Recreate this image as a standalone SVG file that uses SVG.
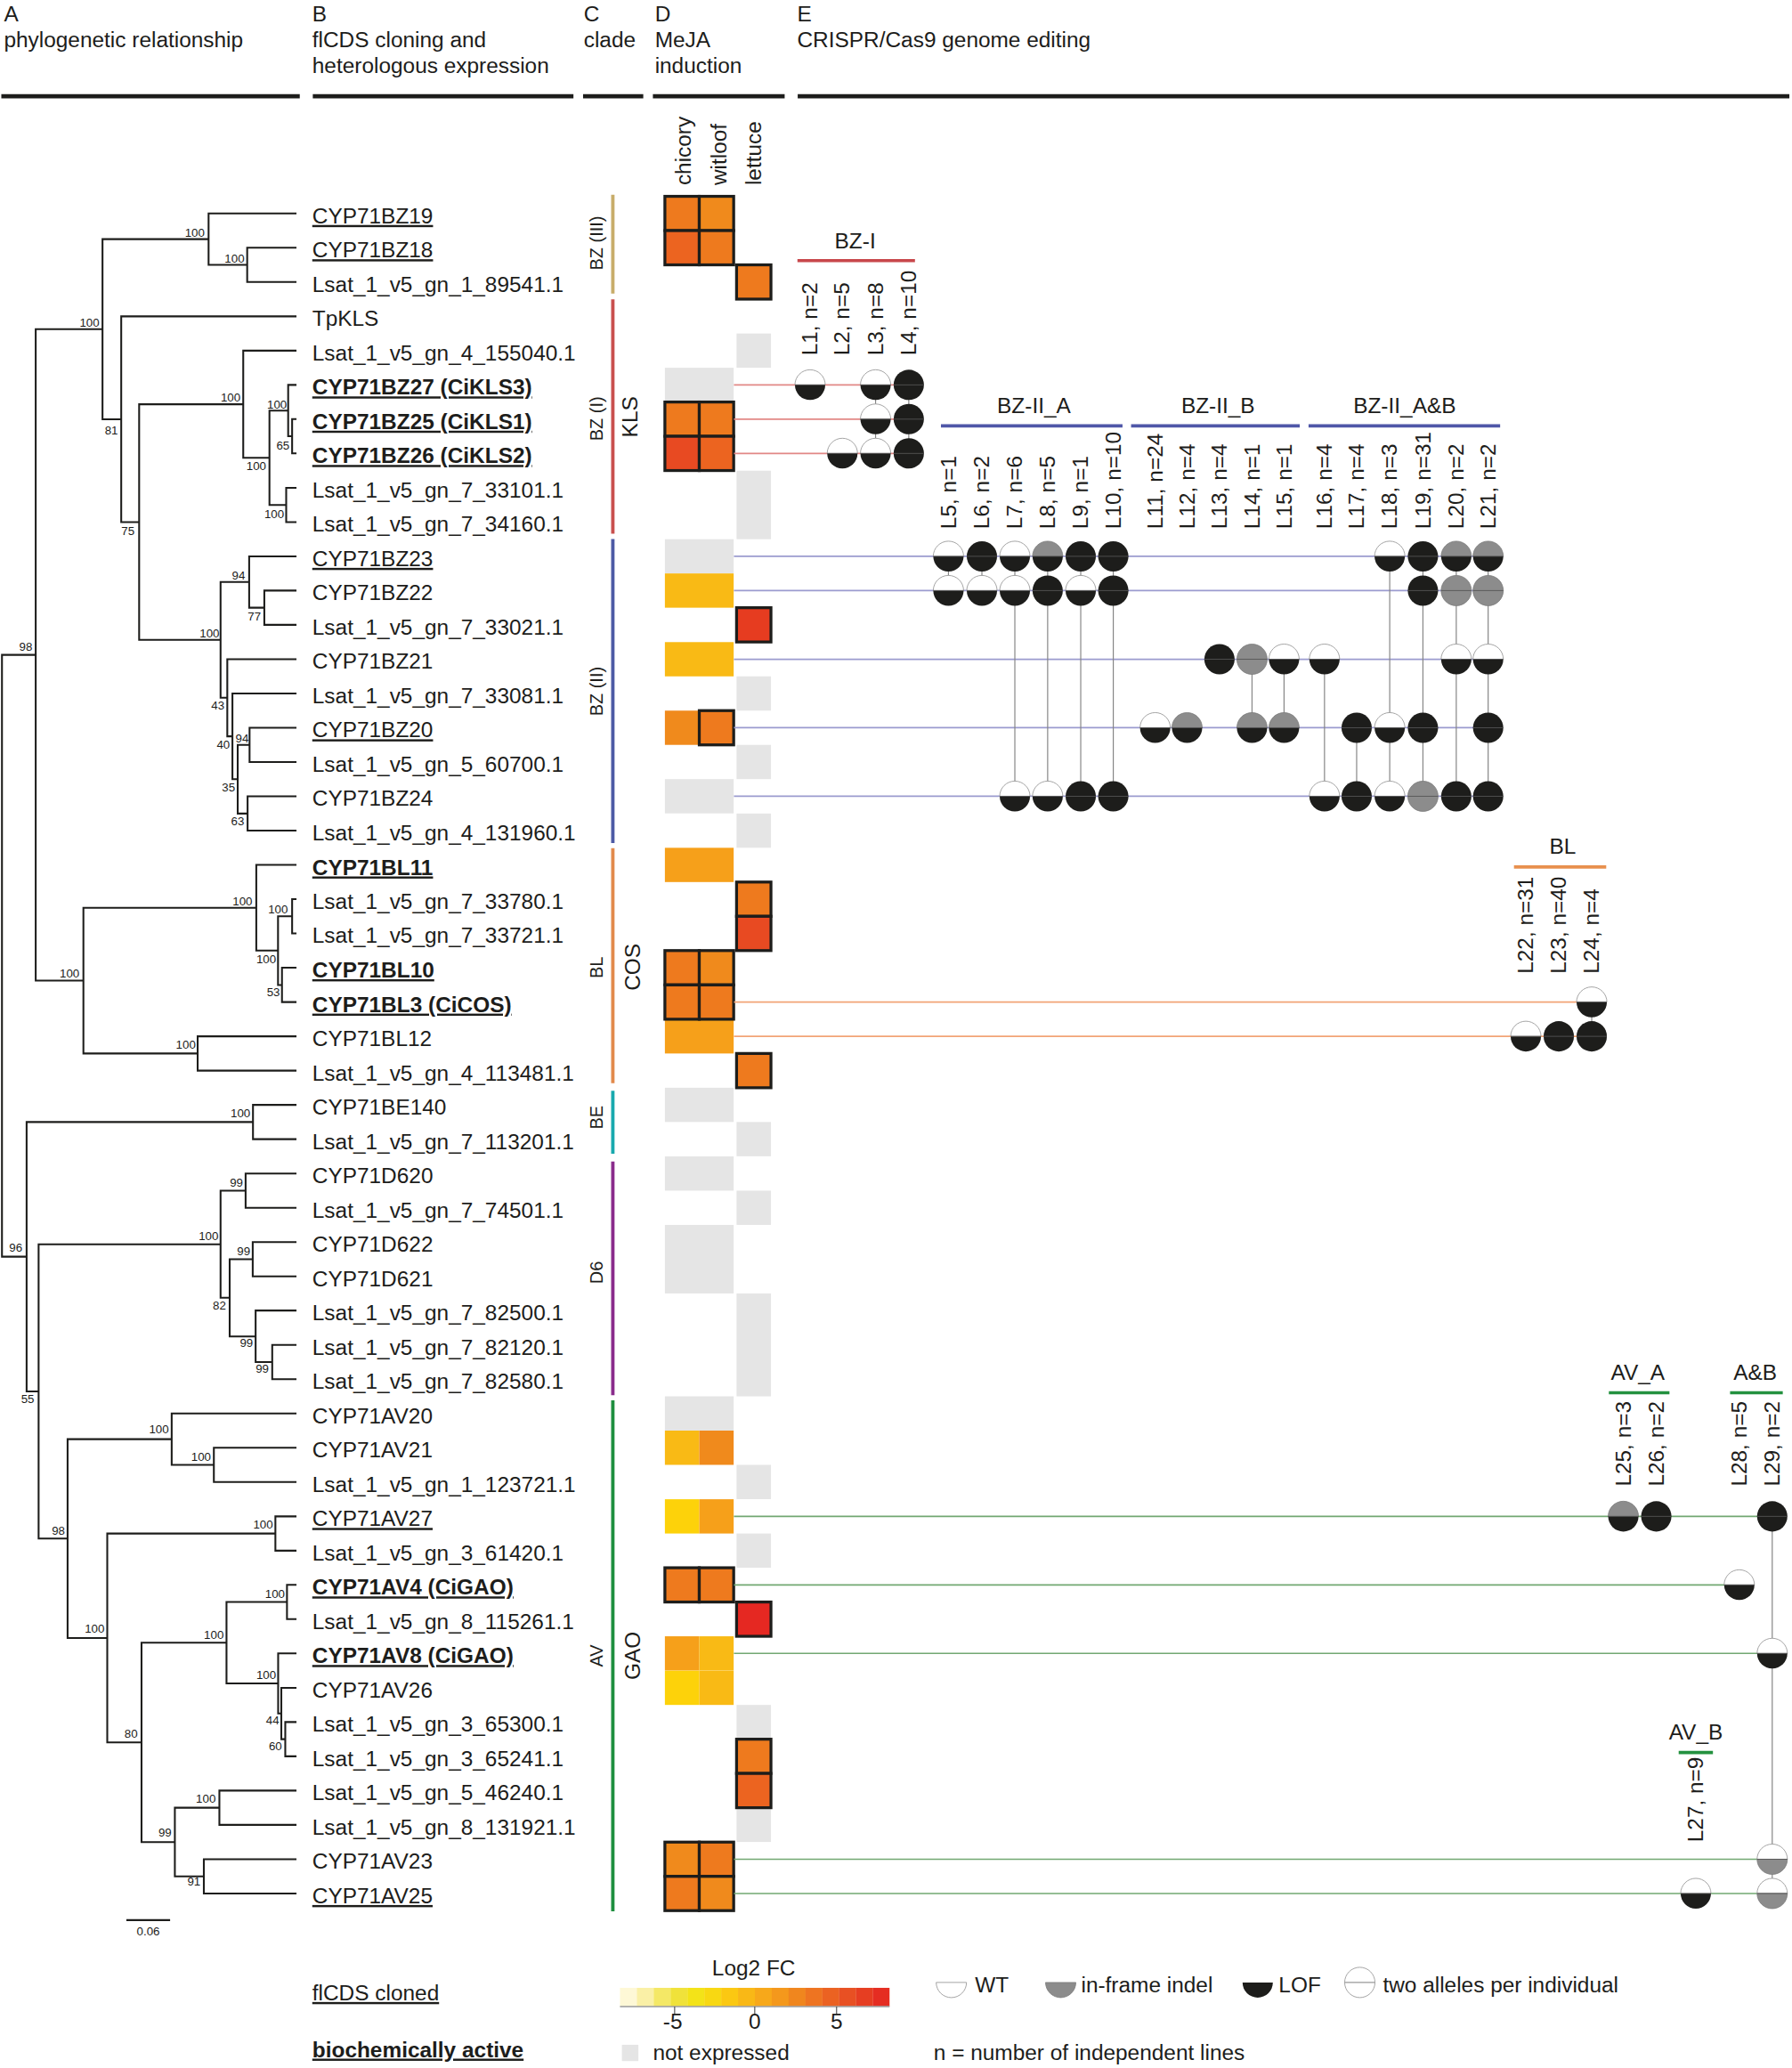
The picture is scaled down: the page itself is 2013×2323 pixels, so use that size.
<svg xmlns="http://www.w3.org/2000/svg" xmlns:xlink="http://www.w3.org/1999/xlink" width="2013" height="2323" viewBox="0 0 2013 2323">
<style>
.t{font-family:"Liberation Sans",Arial,sans-serif;font-size:16.5px;fill:#1d1d1b}
.b{font-weight:bold}
.u{text-decoration:underline}
.bs{font-family:"Liberation Sans",Arial,sans-serif;font-size:9px;fill:#1d1d1b;text-anchor:middle}
.cl{font-family:"Liberation Sans",Arial,sans-serif;font-size:13.5px;fill:#1d1d1b;text-anchor:middle}
.cb{font-family:"Liberation Sans",Arial,sans-serif;font-size:16.5px;fill:#1d1d1b;text-anchor:middle}
.tr{stroke:#1d1d1b;stroke-width:1.4;fill:none}
.hd{stroke:#1d1d1b;stroke-width:3.2}
.cbar{stroke-width:2.6;fill:none}
.c1{fill:#F9BA15}.c2{fill:#F6A01A}.c3{fill:#F08A1C}.c4{fill:#EE7A1E}.c5{fill:#EC6420}.c6{fill:#E84A22}.c7{fill:#E63C20}.c8{fill:#E52822}.cy{fill:#FDD20A}.ne{fill:#E5E5E5}
.bd{stroke:#1d1d1b;stroke-width:2.2}
.w{fill:#fff;stroke:#9a9a9a;stroke-width:.6}
.g{fill:#8c8c8c;stroke:#777;stroke-width:.5}
.k{fill:#1d1d1b}
.dv{stroke:#555;stroke-width:.6}
.vc{stroke:#858585;stroke-width:.8}
.hr{stroke:#E28886;stroke-width:1.1}
.hb{stroke:#9B9BCF;stroke-width:1.2}
.ho{stroke:#F2A476;stroke-width:1.1}
.hg{stroke:#72A872;stroke-width:1.1}
.gr{stroke:#C8474B;stroke-width:2.5}
.gb{stroke:#4F57A8;stroke-width:2.5}
.go{stroke:#E8904E;stroke-width:2.5}
.gg{stroke:#23913F;stroke-width:2.5}
</style>
<defs>
<g id="wk"><path d="M-11.5 0A11.5 11.5 0 0 1 11.5 0Z" class="w"/><path d="M-11.5 0A11.5 11.5 0 0 0 11.5 0Z" class="k"/><line x1="-11.5" x2="11.5" class="dv"/></g>
<g id="kk"><circle r="11.5" class="k"/><line x1="-11.5" x2="11.5" class="dv"/></g>
<g id="gk"><path d="M-11.5 0A11.5 11.5 0 0 1 11.5 0Z" class="g"/><path d="M-11.5 0A11.5 11.5 0 0 0 11.5 0Z" class="k"/><line x1="-11.5" x2="11.5" class="dv"/></g>
<g id="gg"><circle r="11.5" class="g"/><line x1="-11.5" x2="11.5" class="dv"/></g>
<g id="wg"><path d="M-11.5 0A11.5 11.5 0 0 1 11.5 0Z" class="w"/><path d="M-11.5 0A11.5 11.5 0 0 0 11.5 0Z" class="g"/><line x1="-11.5" x2="11.5" class="dv"/></g>
</defs>
<rect width="2013" height="2323" fill="#fff"/>
<g transform="scale(1.48015)">
<g id="header">
<text class="t" x="3" y="16">A</text>
<text class="t" x="3" y="35.5">phylogenetic relationship</text>
<text class="t" x="237" y="16">B</text>
<text class="t" x="237" y="35.5">flCDS cloning and</text>
<text class="t" x="237" y="55.5">heterologous expression</text>
<text class="t" x="443" y="16">C</text>
<text class="t" x="443" y="35.5">clade</text>
<text class="t" x="497" y="16">D</text>
<text class="t" x="497" y="35.5">MeJA</text>
<text class="t" x="497" y="55.5">induction</text>
<text class="t" x="605" y="16">E</text>
<text class="t" x="605" y="35.5">CRISPR/Cas9 genome editing</text>
<line class="hd" x1="1" y1="73" x2="227.5" y2="73"/>
<line class="hd" x1="237.4" y1="73" x2="435.2" y2="73"/>
<line class="hd" x1="442.5" y1="73" x2="488.2" y2="73"/>
<line class="hd" x1="495.5" y1="73" x2="595.5" y2="73"/>
<line class="hd" x1="605.4" y1="73" x2="1358" y2="73"/>
</g>
<g id="tree" class="tr">
<path d="M225 188H187.6V214H225"/>
<path d="M225 162H158.3V201H187.6"/>
<path d="M225 318.1H221.7V344.1H225"/>
<path d="M225 292.1H218.7V331.1H221.7"/>
<path d="M225 370.2H217.2V396.2H225"/>
<path d="M218.7 311.6H204.5V383.2H217.2"/>
<path d="M225 266.1H184.6V347.4H204.5"/>
<path d="M225 448.2H200.6V474.2H225"/>
<path d="M225 422.2H189.1V461.2H200.6"/>
<path d="M225 552.3H189.4V578.3H225"/>
<path d="M225 604.3H187.9V630.4H225"/>
<path d="M189.4 565.3H180.4V617.4H187.9"/>
<path d="M225 526.3H176.4V591.3H180.4"/>
<path d="M225 500.3H172.5V558.8H176.4"/>
<path d="M189.1 441.7H167.4V529.5H172.5"/>
<path d="M184.6 306.8H105.6V485.6H167.4"/>
<path d="M225 240.1H92V396.2H105.6"/>
<path d="M158.3 181.5H77.8V318.2H92"/>
<path d="M225 682.4H221.7V708.4H225"/>
<path d="M225 734.4H214V760.5H225"/>
<path d="M221.7 695.4H211V747.5H214"/>
<path d="M225 656.4H194.5V721.4H211"/>
<path d="M225 786.5H150V812.5H225"/>
<path d="M194.5 688.9H63.3V799.5H150"/>
<path d="M77.8 249.8H27.1V744.2H63.3"/>
<path d="M225 838.5H192V864.5H225"/>
<path d="M225 890.6H186.4V916.6H225"/>
<path d="M225 942.6H191.8V968.6H225"/>
<path d="M225 1020.7H206.6V1046.7H225"/>
<path d="M225 994.6H194V1033.7H206.6"/>
<path d="M191.8 955.6H174.3V1014.2H194"/>
<path d="M186.4 903.6H167.4V984.9H174.3"/>
<path d="M225 1098.7H162.3V1124.7H225"/>
<path d="M225 1072.7H130.3V1111.7H162.3"/>
<path d="M225 1150.8H209V1176.8H225"/>
<path d="M225 1202.8H217.8V1228.8H225"/>
<path d="M225 1306.9H216.5V1332.9H225"/>
<path d="M225 1280.9H213.5V1319.9H216.5"/>
<path d="M225 1254.8H211.1V1300.4H213.5"/>
<path d="M217.8 1215.8H171.9V1277.6H211.1"/>
<path d="M225 1358.9H166.5V1384.9H225"/>
<path d="M225 1411H154.7V1437H225"/>
<path d="M166.5 1371.9H132.7V1424H154.7"/>
<path d="M171.9 1246.7H107.4V1398H132.7"/>
<path d="M209 1163.8H81.4V1322.3H107.4"/>
<path d="M130.3 1092.2H51.3V1243.1H81.4"/>
<path d="M167.4 944.3H29.3V1167.6H51.3"/>
<path d="M192 851.5H20.2V1056H29.3"/>
<path d="M27.1 497H1.5V953.7H20.2"/>
<path d="M95.9 1457.2H129.1"/>
</g>
<g id="bootstrap">
<text class="bs" x="147.8" y="179.5">100</text>
<text class="bs" x="178" y="199">100</text>
<text class="bs" x="67.9" y="248">100</text>
<text class="bs" x="84.5" y="329.5">81</text>
<text class="bs" x="97.1" y="406">75</text>
<text class="bs" x="175" y="305">100</text>
<text class="bs" x="194.5" y="357">100</text>
<text class="bs" x="210.2" y="310">100</text>
<text class="bs" x="214.7" y="341">65</text>
<text class="bs" x="208.1" y="393.5">100</text>
<text class="bs" x="159" y="484">100</text>
<text class="bs" x="181" y="440">94</text>
<text class="bs" x="193" y="471">77</text>
<text class="bs" x="165.3" y="538.5">43</text>
<text class="bs" x="169.5" y="568">40</text>
<text class="bs" x="173.4" y="600.7">35</text>
<text class="bs" x="183.7" y="563.5">94</text>
<text class="bs" x="180.4" y="626.6">63</text>
<text class="bs" x="19.6" y="494.2">98</text>
<text class="bs" x="52.8" y="742">100</text>
<text class="bs" x="184" y="686.8">100</text>
<text class="bs" x="202" y="730.7">100</text>
<text class="bs" x="211" y="693.5">100</text>
<text class="bs" x="207.5" y="756.2">53</text>
<text class="bs" x="141" y="796">100</text>
<text class="bs" x="182.5" y="848.2">100</text>
<text class="bs" x="12" y="950.2">96</text>
<text class="bs" x="21" y="1065">55</text>
<text class="bs" x="158.3" y="941">100</text>
<text class="bs" x="179.4" y="900.7">99</text>
<text class="bs" x="166.5" y="994">82</text>
<text class="bs" x="184.9" y="952.5">99</text>
<text class="bs" x="187" y="1022">99</text>
<text class="bs" x="199" y="1042">99</text>
<text class="bs" x="44.3" y="1164.8">98</text>
<text class="bs" x="120.6" y="1088">100</text>
<text class="bs" x="152.6" y="1108.5">100</text>
<text class="bs" x="71.8" y="1239">100</text>
<text class="bs" x="199.7" y="1160">100</text>
<text class="bs" x="99.5" y="1318.5">80</text>
<text class="bs" x="162.3" y="1243.7">100</text>
<text class="bs" x="208.7" y="1212.6">100</text>
<text class="bs" x="202" y="1274.2">100</text>
<text class="bs" x="206.9" y="1308.4">44</text>
<text class="bs" x="209" y="1328">60</text>
<text class="bs" x="125.2" y="1394">99</text>
<text class="bs" x="156.2" y="1368">100</text>
<text class="bs" x="147.2" y="1431">91</text>
<text class="bs" x="112.5" y="1468.5">0.06</text>
</g>
<g id="labels" class="t" transform="translate(0 1.6)">
<text class="u" x="237" y="167.8">CYP71BZ19</text>
<text class="u" x="237" y="193.8">CYP71BZ18</text>
<text x="237" y="219.8">Lsat_1_v5_gn_1_89541.1</text>
<text x="237" y="245.9">TpKLS</text>
<text x="237" y="271.9">Lsat_1_v5_gn_4_155040.1</text>
<text class="b u" x="237" y="297.9">CYP71BZ27 (CiKLS3)</text>
<text class="b u" x="237" y="323.9">CYP71BZ25 (CiKLS1)</text>
<text class="b u" x="237" y="349.9">CYP71BZ26 (CiKLS2)</text>
<text x="237" y="376">Lsat_1_v5_gn_7_33101.1</text>
<text x="237" y="402">Lsat_1_v5_gn_7_34160.1</text>
<text class="u" x="237" y="428">CYP71BZ23</text>
<text x="237" y="454">CYP71BZ22</text>
<text x="237" y="480">Lsat_1_v5_gn_7_33021.1</text>
<text x="237" y="506.1">CYP71BZ21</text>
<text x="237" y="532.1">Lsat_1_v5_gn_7_33081.1</text>
<text class="u" x="237" y="558.1">CYP71BZ20</text>
<text x="237" y="584.1">Lsat_1_v5_gn_5_60700.1</text>
<text x="237" y="610.1">CYP71BZ24</text>
<text x="237" y="636.2">Lsat_1_v5_gn_4_131960.1</text>
<text class="b u" x="237" y="662.2">CYP71BL11</text>
<text x="237" y="688.2">Lsat_1_v5_gn_7_33780.1</text>
<text x="237" y="714.2">Lsat_1_v5_gn_7_33721.1</text>
<text class="b u" x="237" y="740.2">CYP71BL10</text>
<text class="b u" x="237" y="766.3">CYP71BL3 (CiCOS)</text>
<text x="237" y="792.3">CYP71BL12</text>
<text x="237" y="818.3">Lsat_1_v5_gn_4_113481.1</text>
<text x="237" y="844.3">CYP71BE140</text>
<text x="237" y="870.3">Lsat_1_v5_gn_7_113201.1</text>
<text x="237" y="896.4">CYP71D620</text>
<text x="237" y="922.4">Lsat_1_v5_gn_7_74501.1</text>
<text x="237" y="948.4">CYP71D622</text>
<text x="237" y="974.4">CYP71D621</text>
<text x="237" y="1000.4">Lsat_1_v5_gn_7_82500.1</text>
<text x="237" y="1026.5">Lsat_1_v5_gn_7_82120.1</text>
<text x="237" y="1052.5">Lsat_1_v5_gn_7_82580.1</text>
<text x="237" y="1078.5">CYP71AV20</text>
<text x="237" y="1104.5">CYP71AV21</text>
<text x="237" y="1130.5">Lsat_1_v5_gn_1_123721.1</text>
<text class="u" x="237" y="1156.6">CYP71AV27</text>
<text x="237" y="1182.6">Lsat_1_v5_gn_3_61420.1</text>
<text class="b u" x="237" y="1208.6">CYP71AV4 (CiGAO)</text>
<text x="237" y="1234.6">Lsat_1_v5_gn_8_115261.1</text>
<text class="b u" x="237" y="1260.6">CYP71AV8 (CiGAO)</text>
<text x="237" y="1286.7">CYP71AV26</text>
<text x="237" y="1312.7">Lsat_1_v5_gn_3_65300.1</text>
<text x="237" y="1338.7">Lsat_1_v5_gn_3_65241.1</text>
<text x="237" y="1364.7">Lsat_1_v5_gn_5_46240.1</text>
<text x="237" y="1390.7">Lsat_1_v5_gn_8_131921.1</text>
<text x="237" y="1416.8">CYP71AV23</text>
<text class="u" x="237" y="1442.8">CYP71AV25</text>
</g>
<g id="clades">
<line class="cbar" stroke="#C8AD6A" x1="465.1" y1="147.8" x2="465.1" y2="222.8"/>
<line class="cbar" stroke="#C9504E" x1="465.1" y1="227.2" x2="465.1" y2="405.1"/>
<line class="cbar" stroke="#4D5AA5" x1="465.1" y1="409" x2="465.1" y2="639.8"/>
<line class="cbar" stroke="#E28A4C" x1="465.1" y1="643.7" x2="465.1" y2="822.1"/>
<line class="cbar" stroke="#18A9AE" x1="465.1" y1="827.8" x2="465.1" y2="875.6"/>
<line class="cbar" stroke="#8A2C8C" x1="465.1" y1="881.5" x2="465.1" y2="1058.8"/>
<line class="cbar" stroke="#1E8F3F" x1="465.1" y1="1062.7" x2="465.1" y2="1450.6"/>
<text class="cl" transform="translate(457.5 184.5) rotate(-90)">BZ (III)</text>
<text class="cl" transform="translate(457.5 317.7) rotate(-90)">BZ (I)</text>
<text class="cb" transform="translate(483.9 316.4) rotate(-90)">KLS</text>
<text class="cl" transform="translate(457.5 524.7) rotate(-90)">BZ (II)</text>
<text class="cl" transform="translate(457.5 734.2) rotate(-90)">BL</text>
<text class="cb" transform="translate(485.7 734) rotate(-90)">COS</text>
<text class="cl" transform="translate(457.5 848) rotate(-90)">BE</text>
<text class="cl" transform="translate(457.5 965.7) rotate(-90)">D6</text>
<text class="cl" transform="translate(457.5 1256.6) rotate(-90)">AV</text>
<text class="cb" transform="translate(485.7 1256.6) rotate(-90)">GAO</text>
</g>
<g id="heatmap">
<text class="t" transform="translate(524.5 140.6) rotate(-90)">chicory</text>
<text class="t" transform="translate(551.5 140.6) rotate(-90)">witloof</text>
<text class="t" transform="translate(577.8 140.6) rotate(-90)">lettuce</text>
<rect class="ne" x="559" y="253.1" width="26.1" height="26"/>
<rect class="ne" x="504.6" y="279.1" width="52.2" height="26"/>
<rect class="ne" x="559" y="357.2" width="26.1" height="52"/>
<rect class="ne" x="504.6" y="409.2" width="52.2" height="26"/>
<rect class="c1" x="504.6" y="435.2" width="52.2" height="26"/>
<rect class="c1" x="504.6" y="487.3" width="52.2" height="26"/>
<rect class="ne" x="559" y="513.3" width="26.1" height="26"/>
<rect class="c3" x="504.6" y="539.3" width="26.1" height="26"/>
<rect class="ne" x="559" y="565.3" width="26.1" height="26"/>
<rect class="ne" x="504.6" y="591.3" width="52.2" height="26"/>
<rect class="ne" x="559" y="617.4" width="26.1" height="26"/>
<rect class="c2" x="504.6" y="643.4" width="52.2" height="26"/>
<rect class="c2" x="504.6" y="773.5" width="52.2" height="26"/>
<rect class="ne" x="504.6" y="825.5" width="52.2" height="26"/>
<rect class="ne" x="559" y="851.5" width="26.1" height="26"/>
<rect class="ne" x="504.6" y="877.6" width="52.2" height="26"/>
<rect class="ne" x="559" y="903.6" width="26.1" height="26"/>
<rect class="ne" x="504.6" y="929.6" width="52.2" height="52"/>
<rect class="ne" x="559" y="981.6" width="26.1" height="78.1"/>
<rect class="ne" x="504.6" y="1059.7" width="52.2" height="26"/>
<rect class="c1" x="504.6" y="1085.7" width="26.1" height="26"/>
<rect class="c3" x="530.7" y="1085.7" width="26.1" height="26"/>
<rect class="ne" x="559" y="1111.7" width="26.1" height="26"/>
<rect class="cy" x="504.6" y="1137.8" width="26.1" height="26"/>
<rect class="c2" x="530.7" y="1137.8" width="26.1" height="26"/>
<rect class="ne" x="559" y="1163.8" width="26.1" height="26"/>
<rect class="c2" x="504.6" y="1241.8" width="26.1" height="26"/>
<rect class="c1" x="530.7" y="1241.8" width="26.1" height="26"/>
<rect class="cy" x="504.6" y="1267.9" width="26.1" height="26"/>
<rect class="c1" x="530.7" y="1267.9" width="26.1" height="26"/>
<rect class="ne" x="559" y="1293.9" width="26.1" height="26"/>
<rect class="ne" x="559" y="1371.9" width="26.1" height="26"/>
<g class="bd">
<rect class="c4" x="504.6" y="149" width="26.1" height="26"/>
<rect class="c3" x="530.7" y="149" width="26.1" height="26"/>
<rect class="c5" x="504.6" y="175" width="26.1" height="26"/>
<rect class="c4" x="530.7" y="175" width="26.1" height="26"/>
<rect class="c4" x="559" y="201" width="26.1" height="26"/>
<rect class="c4" x="504.6" y="305.1" width="26.1" height="26"/>
<rect class="c4" x="530.7" y="305.1" width="26.1" height="26"/>
<rect class="c6" x="504.6" y="331.1" width="26.1" height="26"/>
<rect class="c5" x="530.7" y="331.1" width="26.1" height="26"/>
<rect class="c7" x="559" y="461.2" width="26.1" height="26"/>
<rect class="c4" x="530.7" y="539.3" width="26.1" height="26"/>
<rect class="c4" x="559" y="669.4" width="26.1" height="26"/>
<rect class="c6" x="559" y="695.4" width="26.1" height="26"/>
<rect class="c4" x="504.6" y="721.4" width="26.1" height="26"/>
<rect class="c3" x="530.7" y="721.4" width="26.1" height="26"/>
<rect class="c4" x="504.6" y="747.5" width="26.1" height="26"/>
<rect class="c4" x="530.7" y="747.5" width="26.1" height="26"/>
<rect class="c4" x="559" y="799.5" width="26.1" height="26"/>
<rect class="c4" x="504.6" y="1189.8" width="26.1" height="26"/>
<rect class="c4" x="530.7" y="1189.8" width="26.1" height="26"/>
<rect class="c8" x="559" y="1215.8" width="26.1" height="26"/>
<rect class="c4" x="559" y="1319.9" width="26.1" height="26"/>
<rect class="c5" x="559" y="1345.9" width="26.1" height="26"/>
<rect class="c3" x="504.6" y="1398" width="26.1" height="26"/>
<rect class="c4" x="530.7" y="1398" width="26.1" height="26"/>
<rect class="c4" x="504.6" y="1424" width="26.1" height="26"/>
<rect class="c3" x="530.7" y="1424" width="26.1" height="26"/>
</g>
</g>
<g id="connectors">
<line class="hr" x1="557" y1="292.1" x2="689.7" y2="292.1"/>
<line class="hr" x1="557" y1="318.1" x2="689.7" y2="318.1"/>
<line class="hr" x1="557" y1="344.1" x2="689.7" y2="344.1"/>
<line class="hb" x1="557" y1="422.2" x2="1129.4" y2="422.2"/>
<line class="hb" x1="557" y1="448.2" x2="1129.4" y2="448.2"/>
<line class="hb" x1="557" y1="500.3" x2="1129.4" y2="500.3"/>
<line class="hb" x1="557" y1="552.3" x2="1129.4" y2="552.3"/>
<line class="hb" x1="557" y1="604.3" x2="1129.4" y2="604.3"/>
<line class="ho" x1="557" y1="760.5" x2="1208" y2="760.5"/>
<line class="ho" x1="557" y1="786.5" x2="1208" y2="786.5"/>
<line class="hg" x1="557" y1="1150.8" x2="1345" y2="1150.8"/>
<line class="hg" x1="557" y1="1202.8" x2="1320" y2="1202.8"/>
<line class="hg" x1="557" y1="1254.8" x2="1345" y2="1254.8"/>
<line class="hg" x1="557" y1="1411" x2="1345" y2="1411"/>
<line class="hg" x1="557" y1="1437" x2="1345" y2="1437"/>
<g class="vc">
<line x1="664.5" y1="292.1" x2="664.5" y2="344.1"/>
<line x1="689.7" y1="292.1" x2="689.7" y2="344.1"/>
<line x1="719.8" y1="422.2" x2="719.8" y2="448.2"/>
<line x1="745.2" y1="422.2" x2="745.2" y2="448.2"/>
<line x1="770.2" y1="422.2" x2="770.2" y2="604.3"/>
<line x1="795.1" y1="422.2" x2="795.1" y2="604.3"/>
<line x1="820.2" y1="422.2" x2="820.2" y2="604.3"/>
<line x1="844.9" y1="422.2" x2="844.9" y2="604.3"/>
<line x1="950.2" y1="500.3" x2="950.2" y2="552.3"/>
<line x1="974.5" y1="500.3" x2="974.5" y2="552.3"/>
<line x1="1005.2" y1="500.3" x2="1005.2" y2="604.3"/>
<line x1="1029.6" y1="552.3" x2="1029.6" y2="604.3"/>
<line x1="1054.7" y1="422.2" x2="1054.7" y2="604.3"/>
<line x1="1079.9" y1="422.2" x2="1079.9" y2="604.3"/>
<line x1="1105.2" y1="422.2" x2="1105.2" y2="604.3"/>
<line x1="1129.4" y1="422.2" x2="1129.4" y2="604.3"/>
<line x1="1208" y1="760.5" x2="1208" y2="786.5"/>
<line x1="1345" y1="1150.8" x2="1345" y2="1437"/>
</g>
</g>
<g id="group-BZ-I">
<text class="cb" x="649" y="188.5">BZ-I</text>
<line class="gr" x1="605.2" y1="197.8" x2="694.4" y2="197.8"/>
<text class="t" transform="translate(620.3 269.8) rotate(-90)">L1, n=2</text>
<text class="t" transform="translate(644.8 269.8) rotate(-90)">L2, n=5</text>
<text class="t" transform="translate(670 269.8) rotate(-90)">L3, n=8</text>
<text class="t" transform="translate(695.2 269.8) rotate(-90)">L4, n=10</text>
<use xlink:href="#wk" x="614.8" y="292.1"/>
<use xlink:href="#wk" x="664.5" y="292.1"/>
<use xlink:href="#kk" x="689.7" y="292.1"/>
<use xlink:href="#wk" x="664.5" y="318.1"/>
<use xlink:href="#kk" x="689.7" y="318.1"/>
<use xlink:href="#wk" x="639.3" y="344.1"/>
<use xlink:href="#wk" x="664.5" y="344.1"/>
<use xlink:href="#kk" x="689.7" y="344.1"/>
</g>
<g id="group-BZ-II">
<text class="cb" x="784.7" y="313.5">BZ-II_A</text>
<line class="gb" x1="714.1" y1="323.2" x2="851.9" y2="323.2"/>
<text class="cb" x="924.4" y="313.5">BZ-II_B</text>
<line class="gb" x1="858.4" y1="323.2" x2="986.4" y2="323.2"/>
<text class="cb" x="1066" y="313.5">BZ-II_A&amp;B</text>
<line class="gb" x1="993.1" y1="323.2" x2="1138.5" y2="323.2"/>
<text class="t" transform="translate(725.3 401.4) rotate(-90)">L5, n=1</text>
<text class="t" transform="translate(750.7 401.4) rotate(-90)">L6, n=2</text>
<text class="t" transform="translate(775.7 401.4) rotate(-90)">L7, n=6</text>
<text class="t" transform="translate(800.6 401.4) rotate(-90)">L8, n=5</text>
<text class="t" transform="translate(825.7 401.4) rotate(-90)">L9, n=1</text>
<text class="t" transform="translate(850.4 401.4) rotate(-90)">L10, n=10</text>
<text class="t" transform="translate(882.2 401.4) rotate(-90)">L11, n=24</text>
<text class="t" transform="translate(906.4 401.4) rotate(-90)">L12, n=4</text>
<text class="t" transform="translate(931 401.4) rotate(-90)">L13, n=4</text>
<text class="t" transform="translate(955.7 401.4) rotate(-90)">L14, n=1</text>
<text class="t" transform="translate(980 401.4) rotate(-90)">L15, n=1</text>
<text class="t" transform="translate(1010.7 401.4) rotate(-90)">L16, n=4</text>
<text class="t" transform="translate(1035.1 401.4) rotate(-90)">L17, n=4</text>
<text class="t" transform="translate(1060.2 401.4) rotate(-90)">L18, n=3</text>
<text class="t" transform="translate(1085.4 401.4) rotate(-90)">L19, n=31</text>
<text class="t" transform="translate(1110.7 401.4) rotate(-90)">L20, n=2</text>
<text class="t" transform="translate(1134.9 401.4) rotate(-90)">L21, n=2</text>
<use xlink:href="#wk" x="719.8" y="422.2"/>
<use xlink:href="#kk" x="745.2" y="422.2"/>
<use xlink:href="#wk" x="770.2" y="422.2"/>
<use xlink:href="#gk" x="795.1" y="422.2"/>
<use xlink:href="#kk" x="820.2" y="422.2"/>
<use xlink:href="#kk" x="844.9" y="422.2"/>
<use xlink:href="#wk" x="1054.7" y="422.2"/>
<use xlink:href="#kk" x="1079.9" y="422.2"/>
<use xlink:href="#gk" x="1105.2" y="422.2"/>
<use xlink:href="#gk" x="1129.4" y="422.2"/>
<use xlink:href="#wk" x="719.8" y="448.2"/>
<use xlink:href="#wk" x="745.2" y="448.2"/>
<use xlink:href="#wk" x="770.2" y="448.2"/>
<use xlink:href="#kk" x="795.1" y="448.2"/>
<use xlink:href="#wk" x="820.2" y="448.2"/>
<use xlink:href="#kk" x="844.9" y="448.2"/>
<use xlink:href="#kk" x="1079.9" y="448.2"/>
<use xlink:href="#gg" x="1105.2" y="448.2"/>
<use xlink:href="#gg" x="1129.4" y="448.2"/>
<use xlink:href="#kk" x="925.5" y="500.3"/>
<use xlink:href="#gg" x="950.2" y="500.3"/>
<use xlink:href="#wk" x="974.5" y="500.3"/>
<use xlink:href="#wk" x="1005.2" y="500.3"/>
<use xlink:href="#wk" x="1105.2" y="500.3"/>
<use xlink:href="#wk" x="1129.4" y="500.3"/>
<use xlink:href="#wk" x="876.7" y="552.3"/>
<use xlink:href="#gk" x="900.9" y="552.3"/>
<use xlink:href="#gk" x="950.2" y="552.3"/>
<use xlink:href="#gk" x="974.5" y="552.3"/>
<use xlink:href="#kk" x="1029.6" y="552.3"/>
<use xlink:href="#wk" x="1054.7" y="552.3"/>
<use xlink:href="#kk" x="1079.9" y="552.3"/>
<use xlink:href="#kk" x="1129.4" y="552.3"/>
<use xlink:href="#wk" x="770.2" y="604.3"/>
<use xlink:href="#wk" x="795.1" y="604.3"/>
<use xlink:href="#kk" x="820.2" y="604.3"/>
<use xlink:href="#kk" x="844.9" y="604.3"/>
<use xlink:href="#wk" x="1005.2" y="604.3"/>
<use xlink:href="#kk" x="1029.6" y="604.3"/>
<use xlink:href="#wk" x="1054.7" y="604.3"/>
<use xlink:href="#gg" x="1079.9" y="604.3"/>
<use xlink:href="#kk" x="1105.2" y="604.3"/>
<use xlink:href="#kk" x="1129.4" y="604.3"/>
</g>
<g id="group-BL">
<text class="cb" x="1186" y="648">BL</text>
<line class="go" x1="1149" y1="658" x2="1219" y2="658"/>
<text class="t" transform="translate(1163.5 739) rotate(-90)">L22, n=31</text>
<text class="t" transform="translate(1188.5 739) rotate(-90)">L23, n=40</text>
<text class="t" transform="translate(1213.5 739) rotate(-90)">L24, n=4</text>
<use xlink:href="#wk" x="1208" y="760.5"/>
<use xlink:href="#wk" x="1158" y="786.5"/>
<use xlink:href="#kk" x="1183" y="786.5"/>
<use xlink:href="#kk" x="1208" y="786.5"/>
</g>
<g id="group-AV">
<text class="cb" x="1243" y="1047">AV_A</text>
<line class="gg" x1="1221" y1="1057" x2="1267" y2="1057"/>
<text class="cb" x="1332" y="1047">A&amp;B</text>
<line class="gg" x1="1313" y1="1057" x2="1353" y2="1057"/>
<text class="cb" x="1287" y="1320">AV_B</text>
<line class="gg" x1="1274" y1="1330" x2="1300" y2="1330"/>
<text class="t" transform="translate(1237.5 1128) rotate(-90)">L25, n=3</text>
<text class="t" transform="translate(1262.5 1128) rotate(-90)">L26, n=2</text>
<text class="t" transform="translate(1325.5 1128) rotate(-90)">L28, n=5</text>
<text class="t" transform="translate(1350.5 1128) rotate(-90)">L29, n=2</text>
<text class="t" transform="translate(1292.5 1398) rotate(-90)">L27, n=9</text>
<use xlink:href="#gk" x="1232" y="1150.8"/>
<use xlink:href="#kk" x="1257" y="1150.8"/>
<use xlink:href="#kk" x="1345" y="1150.8"/>
<use xlink:href="#wk" x="1320" y="1202.8"/>
<use xlink:href="#wk" x="1345" y="1254.8"/>
<use xlink:href="#wg" x="1345" y="1411"/>
<use xlink:href="#wk" x="1287" y="1437"/>
<use xlink:href="#wg" x="1345" y="1437"/>
</g>
<g id="legend">
<text class="t u" x="237" y="1518">flCDS cloned</text>
<text class="t b u" x="237" y="1561">biochemically active</text>
<text class="cb" x="572" y="1499.5">Log2 FC</text>
<g>
<rect x="470.5" y="1508.6" width="12.9" height="14" fill="#FEF8D6"/>
<rect x="483.3" y="1508.6" width="12.9" height="14" fill="#FAF0A6"/>
<rect x="496.1" y="1508.6" width="12.9" height="14" fill="#F4E866"/>
<rect x="508.9" y="1508.6" width="12.9" height="14" fill="#F0E23A"/>
<rect x="521.7" y="1508.6" width="12.9" height="14" fill="#F3E318"/>
<rect x="534.5" y="1508.6" width="12.9" height="14" fill="#F8D812"/>
<rect x="547.3" y="1508.6" width="12.9" height="14" fill="#FBC812"/>
<rect x="560.1" y="1508.6" width="12.9" height="14" fill="#F9B816"/>
<rect x="572.9" y="1508.6" width="12.9" height="14" fill="#F7A81A"/>
<rect x="585.7" y="1508.6" width="12.9" height="14" fill="#F4981C"/>
<rect x="598.5" y="1508.6" width="12.9" height="14" fill="#F0861E"/>
<rect x="611.3" y="1508.6" width="12.9" height="14" fill="#EE7421"/>
<rect x="624.1" y="1508.6" width="12.9" height="14" fill="#EB6222"/>
<rect x="636.9" y="1508.6" width="12.9" height="14" fill="#E85023"/>
<rect x="649.7" y="1508.6" width="12.9" height="14" fill="#E63E22"/>
<rect x="662.5" y="1508.6" width="12.6" height="14" fill="#E52D22"/>
</g>
<line x1="470.5" y1="1522.8" x2="675.1" y2="1522.8" stroke="#9a9a9a" stroke-width="1"/>
<line x1="512" y1="1522.8" x2="512" y2="1529" stroke="#555" stroke-width=".8"/>
<line x1="572.8" y1="1522.8" x2="572.8" y2="1529" stroke="#555" stroke-width=".8"/>
<line x1="634.9" y1="1522.8" x2="634.9" y2="1529" stroke="#555" stroke-width=".8"/>
<text class="cb" x="510.5" y="1540">-5</text>
<text class="cb" x="572.8" y="1540">0</text>
<text class="cb" x="634.9" y="1540">5</text>
<rect class="ne" x="472" y="1551.8" width="12.5" height="12.4"/>
<text class="t" x="495.5" y="1563.5">not expressed</text>
<path d="M710.5 1504.5A11.5 11.5 0 0 0 733.5 1504.5Z" class="w"/>
<text class="t" x="740" y="1512">WT</text>
<path d="M793.5 1504.5A11.5 11.5 0 0 0 816.5 1504.5Z" class="g"/>
<text class="t" x="820.5" y="1512">in-frame indel</text>
<path d="M943 1504.5A11.5 11.5 0 0 0 966 1504.5Z" class="k"/>
<text class="t" x="970.4" y="1512">LOF</text>
<circle cx="1032" cy="1504.5" r="11.5" class="w"/>
<line x1="1020.5" y1="1504.5" x2="1043.5" y2="1504.5" stroke="#999" stroke-width=".7"/>
<text class="t" x="1049.5" y="1512">two alleles per individual</text>
<text class="t" x="708.6" y="1563.5">n = number of independent lines</text>
</g>
</g>
</svg>
